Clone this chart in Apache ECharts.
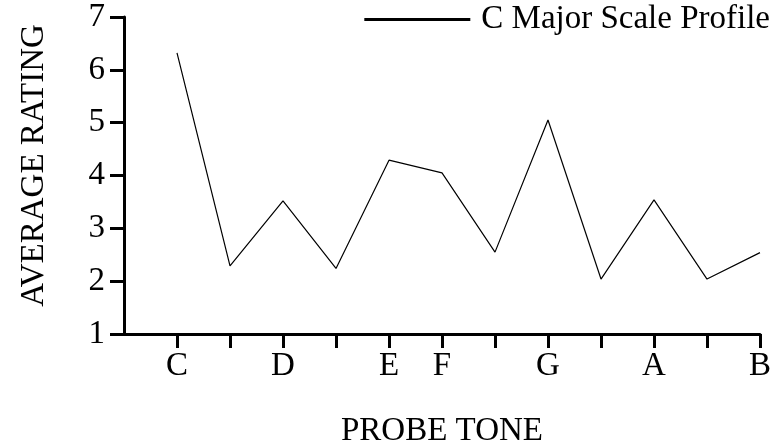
<!DOCTYPE html>
<html>
<head>
<meta charset="utf-8">
<script src="https://cdn.jsdelivr.net/npm/echarts@6/dist/echarts.min.js"></script>
<style>html,body{margin:0;padding:0;background:#fff}#c{width:775px;height:446px}</style>
</head>
<body>
<div id="c"></div>
<script>
var noteNames = ['C','C#','D','D#','E','F','F#','G','G#','A','A#','B'];
var semitones = [0,1,2,3,4,5,6,7,8,9,10,11];
var ratings = [6.32, 2.29, 3.52, 2.24, 4.29, 4.05, 2.55, 5.05, 2.04, 3.54, 2.04, 2.54];
var labelledTones = [0,2,4,5,7,9,11];
var yTicks = [1,2,3,4,5,6,7];
var seriesName = 'C Major Scale Profile';
var xTitle = 'PROBE TONE';
var yTitle = 'AVERAGE RATING';

var FONT = 'Liberation Serif';
var FS = 33;
var chart = echarts.init(document.getElementById('c'), null, {renderer:'canvas'});
chart.setOption({
  animation: false,
  backgroundColor: '#fff',
  grid: {left:124, right:15, top:17, bottom:112, containLabel:false, outerBoundsMode:'none'},
  legend: {
    right: 0, top: -2,
    data: [seriesName],
    icon: 'rect', itemWidth: 106, itemHeight: 3, itemGap: 0,
    textStyle: {fontFamily: FONT, fontSize: FS, color: '#000', padding:[0,0,0,6]},
    itemStyle: {color:'#000'}
  },
  xAxis: {
    type: 'value', min: -1, max: 11, interval: 1,
    name: xTitle, nameLocation: 'middle', nameGap: 81,
    nameTextStyle: {fontFamily: FONT, fontSize: FS, color:'#000'},
    axisLine: {onZero:false, lineStyle:{color:'#000', width:3}},
    axisTick: {show:true, length:14, lineStyle:{color:'#000', width:3}, customValues: semitones},
    axisLabel: {fontFamily: FONT, fontSize: FS, color:'#000', margin: 16,
      customValues: labelledTones,
      formatter: function(v){ return noteNames[Math.round(v)] || ''; }},
    splitLine: {show:false}
  },
  yAxis: {
    type: 'value', min: 1, max: 7, interval: 1,
    name: yTitle, nameLocation: 'middle', nameGap: 73, nameRotate: 90,
    nameTextStyle: {fontFamily: FONT, fontSize: FS, color:'#000', padding:[0,0,0,20]},
    axisLine: {show:true, onZero:false, lineStyle:{color:'#000', width:3}},
    axisTick: {show:true, length:14, lineStyle:{color:'#000', width:3}},
    axisLabel: {fontFamily: FONT, fontSize: FS, color:'#000', margin: 19},
    splitLine: {show:false}
  },
  series: [{
    name: seriesName, type: 'line', symbol: 'none',
    data: semitones.map(function(s,i){ return [s, ratings[i]]; }),
    lineStyle: {color:'#000', width:1.2},
    itemStyle: {color:'#000'}
  }]
});
</script>
</body>
</html>
